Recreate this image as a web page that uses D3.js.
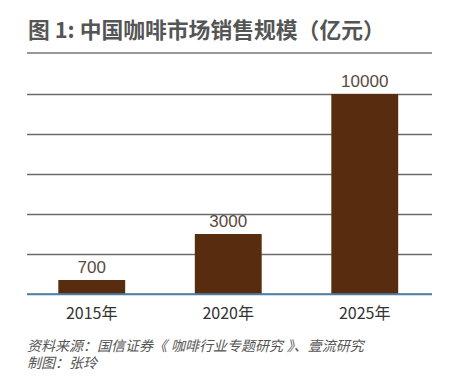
<!DOCTYPE html>
<html><head><meta charset="utf-8">
<script src="https://cdn.jsdelivr.net/npm/d3@7"></script>
<style>body{margin:0;background:#fff}svg{display:block}</style>
</head><body>
<svg id="c" width="468" height="384"></svg>
<script>
const categories = ["2015年", "2020年", "2025年"];
const values = [700, 3000, 10000];
const valueLabels = ["700", "3000", "10000"];
const gridTicks = [0, 2000, 4000, 6000, 8000, 10000];
const titleText = "图 1: 中国咖啡市场销售规模（亿元）";
const notes = ["资料来源：国信证券《 咖啡行业专题研究 》、壹流研究", "制图：张玲"];

(function () {
const svg = d3.select("#c");
const cjk = "'Noto Sans CJK SC', 'Noto Sans', sans-serif";
const pLeft = 27, pRight = 432, pTop = 94, pBottom = 294;

svg.append("text").attr("x", 28).attr("y", 38)
  .attr("font-family", cjk).attr("font-weight", "bold").attr("font-size", 21.8)
  .attr("fill", "#555").text(titleText);
svg.append("line").attr("x1", 27).attr("x2", 432).attr("y1", 53).attr("y2", 53)
  .attr("stroke", "#333").attr("stroke-width", 1.2);

const y = d3.scaleLinear().domain([0, 10000]).range([pBottom, pTop]);
const x = d3.scaleBand().domain(categories).range([23.5, 433]).paddingInner(0.51).paddingOuter(0.255);

const grid = svg.append("g").attr("transform", `translate(${pLeft},0)`)
  .call(d3.axisRight(y).tickValues(gridTicks).tickSize(pRight - pLeft).tickFormat(""));
grid.select(".domain").remove();
grid.selectAll(".tick line").attr("stroke", d => d === 0 ? "#4d7fa6" : "#6b6b6b").attr("stroke-width", 1.3);

svg.append("g").selectAll("rect").data(values).join("rect")
  .attr("x", (d, i) => x(categories[i])).attr("width", x.bandwidth())
  .attr("y", d => y(d)).attr("height", d => pBottom - y(d))
  .attr("fill", "#582d0f");

svg.append("line").attr("x1", pLeft).attr("x2", pRight).attr("y1", y(0)).attr("y2", y(0))
  .attr("stroke", "#4d7fa6").attr("stroke-width", 1.3);

svg.append("g").selectAll("text").data(values).join("text")
  .attr("x", (d, i) => x(categories[i]) + x.bandwidth() / 2).attr("y", d => y(d) - 7)
  .attr("text-anchor", "middle").attr("font-family", "'Liberation Sans', Arial, sans-serif")
  .attr("font-size", 17).attr("fill", "#5a4a40").text((d, i) => valueLabels[i]);

svg.append("g").selectAll("text").data(categories).join("text")
  .attr("x", d => x(d) + x.bandwidth() / 2).attr("y", 319)
  .attr("text-anchor", "middle").attr("font-family", cjk)
  .attr("font-size", 16).attr("fill", "#333").text(d => d);

svg.append("g").selectAll("text").data(notes).join("text")
  .attr("x", 27).attr("y", (d, i) => 351 + i * 17)
  .attr("font-family", "'Liberation Sans', 'Noto Sans CJK SC', sans-serif")
  .attr("font-size", 14).attr("font-style", "italic")
  .attr("fill", "#555").text(d => d);
})();
</script>
</body></html>
